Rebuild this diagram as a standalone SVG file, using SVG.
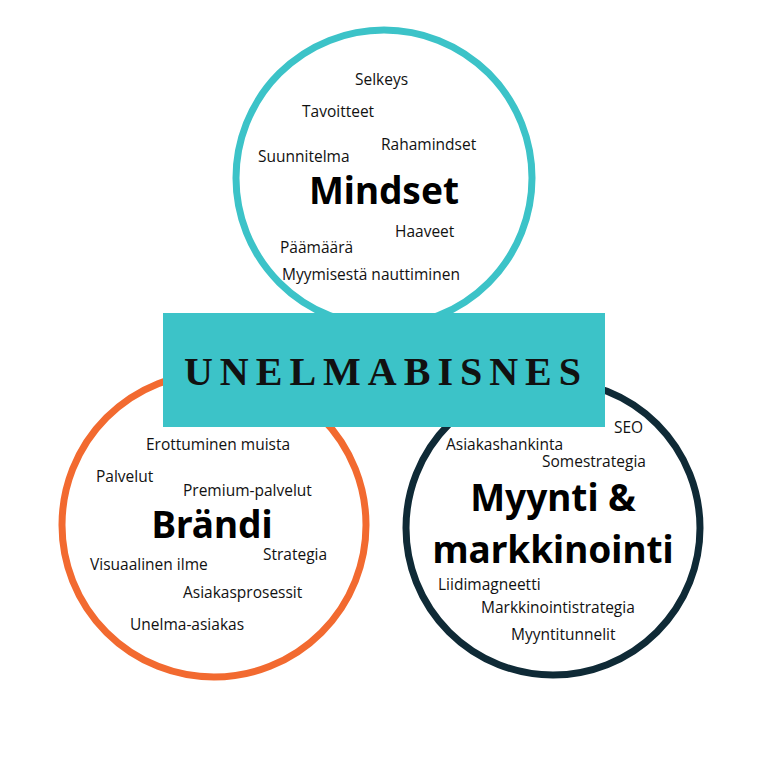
<svg xmlns="http://www.w3.org/2000/svg" width="768" height="768" viewBox="0 0 768 768">
<style>
.s{font-family:"Open Sans","Noto Sans",sans-serif;font-size:15.5px;fill:#111}
.b{font-family:"Noto Sans","Open Sans",sans-serif;font-weight:bold;fill:#000;text-anchor:middle}
circle{fill:#fff;stroke-width:7}
</style>
<rect width="768" height="768" fill="#fff"/>
<g id="mindset">
<circle cx="384" cy="178" r="148" stroke="#3cc3c8"/>
<text class="s" x="355" y="85">Selkeys</text>
<text class="s" x="302" y="117">Tavoitteet</text>
<text class="s" x="381" y="150">Rahamindset</text>
<text class="s" x="258" y="162">Suunnitelma</text>
<text class="b" x="384" y="204" font-size="37">Mindset</text>
<text class="s" x="395" y="237">Haaveet</text>
<text class="s" x="280" y="253">Päämäärä</text>
<text class="s" x="282" y="280">Myymisestä nauttiminen</text>
</g>
<g id="brandi">
<circle cx="214" cy="525" r="152" stroke="#f26a30"/>
<text class="s" x="146" y="450">Erottuminen muista</text>
<text class="s" x="96" y="482">Palvelut</text>
<text class="s" x="183" y="496">Premium-palvelut</text>
<text class="b" x="212" y="538" font-size="37">Brändi</text>
<text class="s" x="263" y="560">Strategia</text>
<text class="s" x="90" y="570">Visuaalinen ilme</text>
<text class="s" x="183" y="598">Asiakasprosessit</text>
<text class="s" x="130" y="630">Unelma-asiakas</text>
</g>
<g id="myynti">
<circle cx="553" cy="528" r="147" stroke="#0f2a36"/>
<text class="s" x="614" y="433">SEO</text>
<text class="s" x="446" y="450">Asiakashankinta</text>
<text class="s" x="542" y="467">Somestrategia</text>
<text class="b" x="553" y="511" font-size="37">Myynti &amp;</text>
<text class="b" x="553" y="563" font-size="37">markkinointi</text>
<text class="s" x="438" y="590">Liidimagneetti</text>
<text class="s" x="481" y="613">Markkinointistrategia</text>
<text class="s" x="511" y="640">Myyntitunnelit</text>
</g>
<g id="title">
<rect x="163" y="313" width="442" height="114" fill="#3cc3c8"/>
<text x="386" y="385" text-anchor="middle" font-family="'Liberation Serif',serif" font-weight="bold" font-size="40" letter-spacing="7" fill="#111">UNELMABISNES</text>
</g>
<g id="connectors"/>
</svg>
